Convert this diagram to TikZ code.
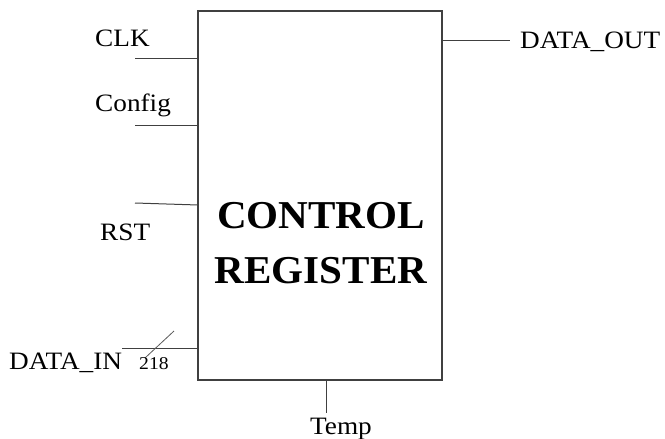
\documentclass[tikz,border=0pt]{standalone}
\usepackage{fontspec}
\setmainfont{Liberation Serif}
\newfontfamily\lblfont[FakeStretch=1.09]{Liberation Serif}
\newfontfamily\bigfont[FakeStretch=1.04]{Liberation Serif}
\begin{document}
\begin{tikzpicture}[x=1pt,y=-1pt,
  wire/.style={line width=1pt,draw=black!75},
  lbl/.style={inner sep=0pt,font=\lblfont\fontsize{25}{28}\selectfont},
  big/.style={inner sep=0pt,font=\bigfont\fontsize{39.5}{46}\selectfont\bfseries,align=center}]
\useasboundingbox (0,0) rectangle (665,439);
\draw[wire,line width=1.2pt] (198,11) rectangle (442,380);
\coordinate (boxL1) at (198,58);
\coordinate (boxL2) at (198,125);
\coordinate (boxL3) at (198,205);
\coordinate (boxL4) at (198,348);
\coordinate (boxR1) at (442,40);
\coordinate (boxB) at (326,380);
\coordinate (e1) at (135,58);
\coordinate (e2) at (135,125);
\coordinate (e3) at (135,203);
\coordinate (e4) at (122,348);
\coordinate (e5) at (510,40);
\coordinate (e6) at (326,413);
\coordinate (s1) at (145,358);
\coordinate (s2) at (174,331);
\draw[wire] (e1) -- (boxL1);
\draw[wire] (e2) -- (boxL2);
\draw[wire] (e3) -- (boxL3);
\draw[wire] (e4) -- (boxL4);
\draw[wire] (boxR1) -- (e5);
\draw[wire] (boxB) -- (e6);
\draw[line width=0.8pt,draw=black!65] (s1) -- (s2);
\node[lbl,anchor=base west] (clk) at (95,46) {CLK};
\node[lbl,anchor=base west] (cfg) at (95,111) {Config};
\node[lbl,anchor=base west] (rst) at (100,240) {RST};
\node[lbl,anchor=base west] (din) at (9,369) {DATA\_IN};
\node[inner sep=0pt,anchor=base west,font=\lblfont\fontsize{18}{20}\selectfont] (w) at (139,369) {218};
\node[lbl,anchor=base west] (dout) at (520,48) {DATA\_OUT};
\node[lbl,anchor=base] (temp) at (341,434) {Temp};
\node[big] (cr) at (321,216) {CONTROL};
\node[big] (rg) at (321,271) {REGISTER};
\end{tikzpicture}
\end{document}
